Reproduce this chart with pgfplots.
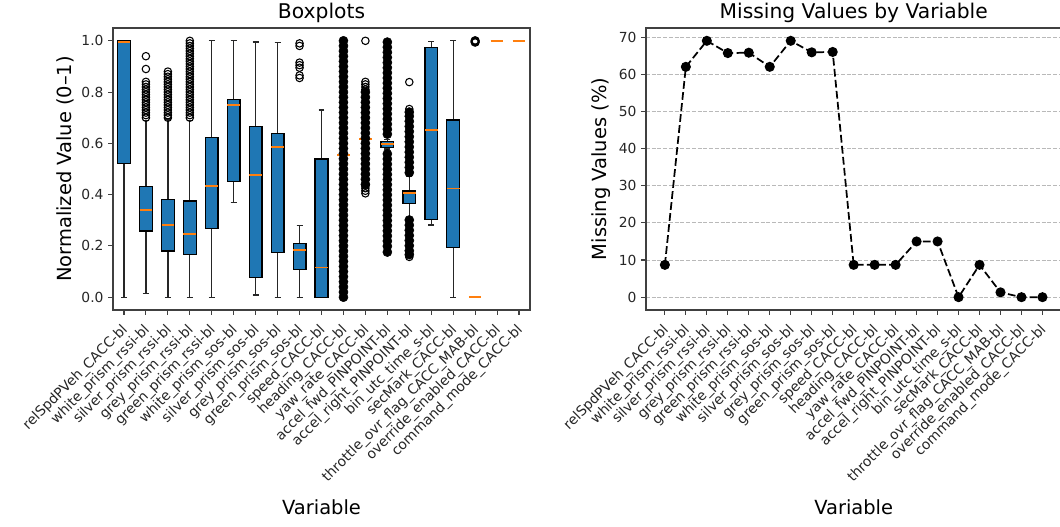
\documentclass[border=0pt]{standalone}
\usepackage{fontspec}
\setmainfont{DejaVu Sans}
\usepackage{pgfplots}
\pgfplotsset{compat=1.18}
\usepgfplotslibrary{statistics}

\definecolor{mplblue}{HTML}{1F77B4}
\definecolor{mplorange}{HTML}{FF7F0E}
\definecolor{spine}{gray}{0.25}

\newcommand{\tickfont}{\fontsize{10.4}{12}\selectfont}
\newcommand{\labelfont}{\fontsize{14.6}{17}\selectfont}
\newcommand{\titlefont}{\fontsize{15.2}{18}\selectfont}

\pgfplotsset{
  common/.style={
    scale only axis, height=211.5pt,
    axis line style={spine, line width=0.8pt},
    tick style={spine, line width=0.8pt},
    tick align=outside, major tick length=3.6pt,
    xtick pos=left, ytick pos=left,
    tick label style={font=\tickfont, text=black!85},
    /pgf/number format/assume math mode=true,
    xticklabel style={xshift=-2.5pt, yshift=-6pt, rotate=45, anchor=north east, inner sep=0pt},
    title style={font=\titlefont, at={(axis description cs:0.5,1)}, anchor=base, yshift=1pt},
    xlabel style={font=\labelfont, at={(axis description cs:0.5,0)}, anchor=base, yshift=-153.75pt},
    ylabel style={font=\labelfont, anchor=base},
  },
  flier/.style={only marks, mark=o, mark size=2.8pt, mark options={draw=black, line width=0.8pt, fill=none}},
  dense/.style={only marks, mark=*, mark size=3.4pt, mark options={draw=black, fill=black}},
  bx/.style={draw=black, fill=mplblue, line width=1pt,
    boxplot/draw direction=y,
    boxplot/box extend=0.58, boxplot/whisker extend=0.27,
    boxplot/every median/.style={draw=mplorange, line width=1.4pt},
    boxplot/every whisker/.style={draw=black!85, line width=1pt}},
  flat/.style={draw=none, fill=none,
    boxplot/draw direction=y,
    boxplot/box extend=0.58, boxplot/whisker extend=0.27,
    boxplot/every box/.style={draw=none, fill=none},
    boxplot/every whisker/.style={draw=none},
    boxplot/every median/.style={draw=mplorange, line width=1.4pt}},
}

\begin{document}
\begin{tikzpicture}
\useasboundingbox (0,0) rectangle (795pt,395.25pt);

% ---------------- left: boxplots ----------------
\begin{axis}[common,
  width=312.75pt, at={(84.75pt,162.75pt)}, anchor=south west,
  xmin=0.5, xmax=19.5, ymin=-0.05, ymax=1.05,
  xtick={1,...,19},
  xticklabels={relSpdPVeh\_CACC-bl, white\_prism\_rssi-bl, silver\_prism\_rssi-bl, grey\_prism\_rssi-bl, green\_prism\_rssi-bl, white\_prism\_sos-bl, silver\_prism\_sos-bl, grey\_prism\_sos-bl, green\_prism\_sos-bl, speed\_CACC-bl, heading\_CACC-bl, yaw\_rate\_CACC-bl, accel\_fwd\_PINPOINT-bl, accel\_right\_PINPOINT-bl, bin\_utc\_time\_s-bl, secMark\_CACC-bl, throttle\_ovr\_flag\_CACC\_MAB-bl, override\_enabled\_CACC-bl, command\_mode\_CACC-bl},
  ytick={0,0.2,0.4,0.6,0.8,1.0},
  yticklabel style={/pgf/number format/.cd, fixed, fixed zerofill, precision=1},
  title=Boxplots, xlabel=Variable,
  ylabel={Normalized Value (0–1)},
  ylabel style={at={(axis description cs:-0.099,0.5)}},
]
% outliers (drawn first)
\addplot[flier] coordinates {(2,0.70)(2,0.71)(2,0.72)(2,0.73)(2,0.74)(2,0.75)(2,0.76)(2,0.77)(2,0.78)(2,0.79)(2,0.80)(2,0.81)(2,0.82)(2,0.83)(2,0.84)(2,0.89)(2,0.94)};
\addplot[flier] coordinates {(3,0.70)(3,0.71)(3,0.72)(3,0.73)(3,0.74)(3,0.75)(3,0.76)(3,0.77)(3,0.78)(3,0.79)(3,0.80)(3,0.81)(3,0.82)(3,0.83)(3,0.84)(3,0.85)(3,0.86)(3,0.87)(3,0.88)};
\addplot[flier] coordinates {(4,0.70)(4,0.71)(4,0.72)(4,0.73)(4,0.74)(4,0.75)(4,0.76)(4,0.77)(4,0.78)(4,0.79)(4,0.80)(4,0.81)(4,0.82)(4,0.83)(4,0.84)(4,0.85)(4,0.86)(4,0.87)(4,0.88)(4,0.89)(4,0.90)(4,0.91)(4,0.92)(4,0.93)(4,0.94)(4,0.95)(4,0.96)(4,0.97)(4,0.98)(4,0.99)(4,1.00)};
\addplot[flier] coordinates {(9,0.855)(9,0.865)(9,0.895)(9,0.905)(9,0.915)(9,0.98)(9,0.99)};
\addplot[dense] coordinates {(11,0.00)(11,0.02)(11,0.04)(11,0.06)(11,0.08)(11,0.10)(11,0.12)(11,0.14)(11,0.16)(11,0.18)(11,0.20)(11,0.22)(11,0.24)(11,0.26)(11,0.28)(11,0.30)(11,0.32)(11,0.34)(11,0.36)(11,0.38)(11,0.40)(11,0.42)(11,0.44)(11,0.46)(11,0.48)(11,0.50)(11,0.52)(11,0.54)(11,0.56)(11,0.58)(11,0.60)(11,0.62)(11,0.64)(11,0.66)(11,0.68)(11,0.70)(11,0.72)(11,0.74)(11,0.76)(11,0.78)(11,0.80)(11,0.82)(11,0.84)(11,0.86)(11,0.88)(11,0.90)(11,0.92)(11,0.94)(11,0.96)(11,0.98)(11,1.00)};
\addplot[flier] coordinates {(12,0.405)(12,0.415)(12,0.425)(12,0.435)(12,0.81)(12,0.82)(12,0.83)(12,0.84)(12,1.00)};
\addplot[dense] coordinates {(12,0.44)(12,0.46)(12,0.48)(12,0.50)(12,0.52)(12,0.54)(12,0.56)(12,0.58)(12,0.60)(12,0.62)(12,0.64)(12,0.66)(12,0.68)(12,0.70)(12,0.72)(12,0.74)(12,0.76)(12,0.78)(12,0.80)};
\addplot[dense] coordinates {(13,0.636)(13,0.655)(13,0.675)(13,0.695)(13,0.715)(13,0.735)(13,0.755)(13,0.775)(13,0.795)(13,0.815)(13,0.835)(13,0.855)(13,0.875)(13,0.895)(13,0.915)(13,0.935)(13,0.955)(13,0.975)(13,0.995)
  (13,0.559)(13,0.539)(13,0.519)(13,0.499)(13,0.479)(13,0.459)(13,0.439)(13,0.419)(13,0.399)(13,0.379)(13,0.359)(13,0.339)(13,0.319)(13,0.299)(13,0.279)(13,0.259)(13,0.239)(13,0.219)(13,0.199)(13,0.176)};
\addplot[dense] coordinates {(14,0.486)(14,0.506)(14,0.526)(14,0.546)(14,0.566)(14,0.586)(14,0.606)(14,0.626)(14,0.646)(14,0.666)(14,0.686)(14,0.706)(14,0.722)
  (14,0.301)(14,0.281)(14,0.261)(14,0.241)(14,0.221)(14,0.201)(14,0.181)(14,0.166)};
\addplot[flier] coordinates {(14,0.734)(14,0.839)(14,0.157)};
\addplot[flier, mark options={draw=black, line width=1.4pt, fill=none}] coordinates {(17,0.995)(17,1.00)};
% boxes
\addplot[bx, boxplot prepared={draw position=1, lower whisker=0, lower quartile=0.522, median=0.996, upper quartile=1.0, upper whisker=1.0}] coordinates {};
\addplot[bx, boxplot prepared={draw position=2, lower whisker=0.014, lower quartile=0.258, median=0.340, upper quartile=0.431, upper whisker=0.690}] coordinates {};
\addplot[bx, boxplot prepared={draw position=3, lower whisker=0, lower quartile=0.180, median=0.281, upper quartile=0.381, upper whisker=0.695}] coordinates {};
\addplot[bx, boxplot prepared={draw position=4, lower whisker=0, lower quartile=0.167, median=0.245, upper quartile=0.375, upper whisker=0.690}] coordinates {};
\addplot[bx, boxplot prepared={draw position=5, lower whisker=0, lower quartile=0.268, median=0.435, upper quartile=0.624, upper whisker=1.0}] coordinates {};
\addplot[bx, boxplot prepared={draw position=6, lower whisker=0.370, lower quartile=0.452, median=0.751, upper quartile=0.770, upper whisker=1.0}] coordinates {};
\addplot[bx, boxplot prepared={draw position=7, lower whisker=0.008, lower quartile=0.076, median=0.478, upper quartile=0.665, upper whisker=0.995}] coordinates {};
\addplot[bx, boxplot prepared={draw position=8, lower whisker=0, lower quartile=0.173, median=0.587, upper quartile=0.639, upper whisker=0.993}] coordinates {};
\addplot[bx, boxplot prepared={draw position=9, lower whisker=0, lower quartile=0.108, median=0.184, upper quartile=0.210, upper whisker=0.279}] coordinates {};
\addplot[bx, boxplot prepared={draw position=10, lower whisker=0, lower quartile=0, median=0.116, upper quartile=0.539, upper whisker=0.730}] coordinates {};
\addplot[flat, boxplot prepared={draw position=11, lower whisker=0.555, lower quartile=0.555, median=0.555, upper quartile=0.555, upper whisker=0.555}] coordinates {};
\addplot[flat, boxplot prepared={draw position=12, lower whisker=0.617, lower quartile=0.617, median=0.617, upper quartile=0.617, upper whisker=0.617}] coordinates {};
\addplot[bx, boxplot prepared={draw position=13, lower whisker=0.578, lower quartile=0.585, median=0.598, upper quartile=0.607, upper whisker=0.614}] coordinates {};
\addplot[bx, boxplot prepared={draw position=14, lower whisker=0.31, lower quartile=0.366, median=0.407, upper quartile=0.414, upper whisker=0.47}] coordinates {};
\addplot[bx, boxplot prepared={draw position=15, lower whisker=0.281, lower quartile=0.303, median=0.652, upper quartile=0.974, upper whisker=0.998}] coordinates {};
\addplot[bx, boxplot prepared={draw position=16, lower whisker=0, lower quartile=0.194, median=0.424, upper quartile=0.691, upper whisker=1.0}] coordinates {};
\addplot[flat, boxplot prepared={draw position=17, lower whisker=0, lower quartile=0, median=0, upper quartile=0, upper whisker=0}] coordinates {};
\addplot[flat, boxplot prepared={draw position=18, lower whisker=1, lower quartile=1, median=1, upper quartile=1, upper whisker=1}] coordinates {};
\addplot[flat, boxplot prepared={draw position=19, lower whisker=1, lower quartile=1, median=1, upper quartile=1, upper whisker=1}] coordinates {};
\end{axis}

% ---------------- right: missing values ----------------
\begin{axis}[common,
  width=311.5pt, at={(484.5pt,162.75pt)}, anchor=south west,
  xmin=-0.9, xmax=18.9, ymin=-3.45, ymax=72.45,
  xtick={0,...,18},
  xticklabels={relSpdPVeh\_CACC-bl, white\_prism\_rssi-bl, silver\_prism\_rssi-bl, grey\_prism\_rssi-bl, green\_prism\_rssi-bl, white\_prism\_sos-bl, silver\_prism\_sos-bl, grey\_prism\_sos-bl, green\_prism\_sos-bl, speed\_CACC-bl, heading\_CACC-bl, yaw\_rate\_CACC-bl, accel\_fwd\_PINPOINT-bl, accel\_right\_PINPOINT-bl, bin\_utc\_time\_s-bl, secMark\_CACC-bl, throttle\_ovr\_flag\_CACC\_MAB-bl, override\_enabled\_CACC-bl, command\_mode\_CACC-bl},
  ytick={0,10,20,30,40,50,60,70},
  ymajorgrids, grid style={gray!55, line width=0.6pt, dash pattern=on 3pt off 1.3pt},
  title=Missing Values by Variable, xlabel=Variable,
  ylabel={Missing Values (\%)},
  ylabel style={at={(axis description cs:-0.094,0.5)}},
]
\addplot[black, line width=1.3pt, dash pattern=on 5.8pt off 2.5pt,
  mark=*, mark size=3.1pt, mark options={solid, fill=black}]
  coordinates {(0,8.7)(1,62)(2,69)(3,65.7)(4,65.8)(5,62)(6,69)(7,65.9)(8,66)(9,8.7)(10,8.7)(11,8.7)(12,15)(13,15)(14,0)(15,8.7)(16,1.3)(17,0)(18,0)};
\end{axis}
\end{tikzpicture}
\end{document}
